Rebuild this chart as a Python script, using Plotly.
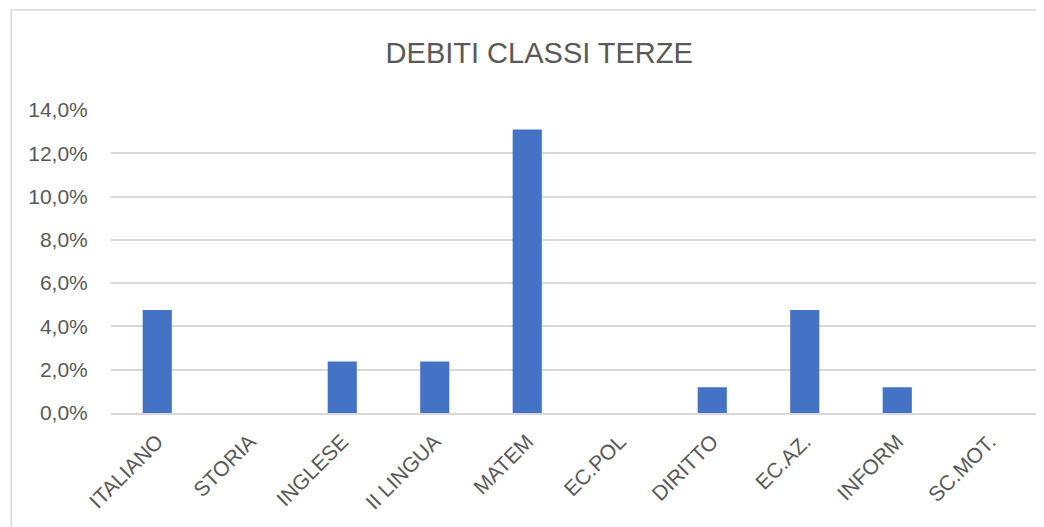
import plotly.graph_objects as go

categories = ["ITALIANO", "STORIA", "INGLESE", "II LINGUA", "MATEM",
              "EC.POL", "DIRITTO", "EC.AZ.", "INFORM", "SC.MOT."]
values = [0.0476, 0.0, 0.0238, 0.0238, 0.1310, 0.0, 0.0119, 0.0476, 0.0119, 0.0]
y_ticks = [0, 0.02, 0.04, 0.06, 0.08, 0.10, 0.12, 0.14]

OFF = 8  # page body margin
W, H = 1044 - OFF, 527 - OFF
L, R = 110.75 - OFF, 1044 - 1035.75
T, B = 110 - OFF, 527 - 413
pw, ph = W - L - R, H - T - B


def px_x(p):
    return (p - OFF - L) / pw


def px_y(p):
    return (H - B - (p - OFF)) / ph


fig = go.Figure(go.Bar(x=categories, y=values, marker_color="#4472C4",
                       marker_line_width=0))

font = "Liberation Sans, Arial, sans-serif"
fig.update_layout(
    width=W, height=H,
    margin=dict(l=L, r=R, t=T, b=B, autoexpand=False),
    paper_bgcolor="white", plot_bgcolor="white",
    separators=",.",
    bargap=0.685,
    showlegend=False,
    title=dict(text="DEBITI CLASSI TERZE", x=px_x(539), xref="paper", xanchor="center",
               y=1 - (53 - OFF) / H, yanchor="middle",
               font=dict(family=font, size=29, color="#595959")),
    font=dict(family=font, color="#595959"),
    xaxis=dict(tickangle=-45, tickfont=dict(size=21, color="#595959"),
               showgrid=False, showline=True, linecolor="#D9D9D9", linewidth=2,
               ticks="outside", ticklen=6, tickcolor="rgba(0,0,0,0)",
               range=[-0.5, 9.5], fixedrange=True),
    yaxis=dict(range=[0, 0.14], tickvals=y_ticks, tickformat=".1%",
               tickfont=dict(size=21, color="#595959"),
               showgrid=True, gridcolor="#D9D9D9", gridwidth=1.5,
               zeroline=False, showline=False,
               ticks="outside", ticklen=18, tickcolor="rgba(0,0,0,0)"),
    shapes=[dict(type="rect", xref="paper", yref="paper",
                 x0=px_x(11), x1=px_x(1080), y0=px_y(560), y1=px_y(10),
                 line=dict(color="#D9D9D9", width=1.5), fillcolor="rgba(0,0,0,0)",
                 layer="below")],
)

fig.write_html("out.html")
